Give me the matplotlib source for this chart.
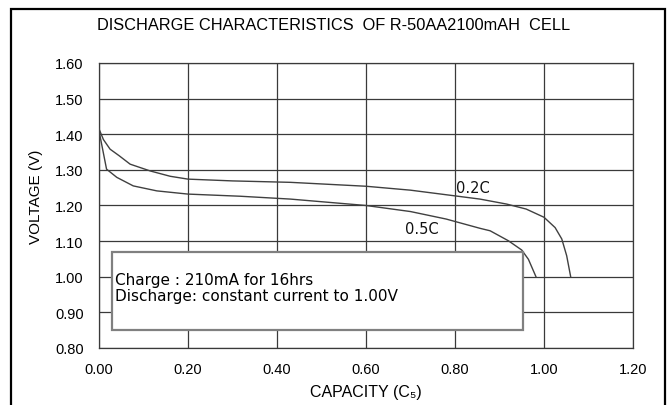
import numpy as np
import matplotlib
matplotlib.use("Agg")
import matplotlib.pyplot as plt
from matplotlib.patches import Rectangle

# Discharge curves (capacity in C5, voltage in V)
cap_02C = [0.0, 0.01, 0.025, 0.045, 0.07, 0.115, 0.16, 0.2, 0.3, 0.43, 0.6, 0.7, 0.8, 0.856, 0.916, 0.96, 1.0, 1.025, 1.04, 1.051, 1.06]
volt_02C = [1.415, 1.385, 1.358, 1.34, 1.316, 1.297, 1.282, 1.274, 1.269, 1.265, 1.254, 1.243, 1.227, 1.218, 1.204, 1.19, 1.167, 1.138, 1.106, 1.059, 1.0]

cap_05C = [0.0, 0.017, 0.04, 0.077, 0.13, 0.2, 0.317, 0.43, 0.6, 0.7, 0.78, 0.856, 0.879, 0.92, 0.95, 0.965, 0.982]
volt_05C = [1.41, 1.302, 1.279, 1.255, 1.241, 1.232, 1.226, 1.218, 1.2, 1.183, 1.162, 1.136, 1.129, 1.101, 1.075, 1.049, 1.0]

curve_labels = ["0.2C", "0.5C"]
x_ticks = [0.0, 0.2, 0.4, 0.6, 0.8, 1.0, 1.2]
y_ticks = [0.8, 0.9, 1.0, 1.1, 1.2, 1.3, 1.4, 1.5, 1.6]

title = "DISCHARGE CHARACTERISTICS  OF R-50AA2100mAH  CELL"
note_text = "Charge : 210mA for 16hrs\nDischarge: constant current to 1.00V"

SANS = ["Liberation Sans", "DejaVu Sans"]
GRID = "#3a3a3a"
LINE = "#404040"
TXT = "#000000"

fig = plt.figure(figsize=(6.67, 4.06), dpi=100)
ax = fig.add_axes([0.1484, 0.1404, 0.8006, 0.702])

# Outer frame around the whole figure
fig.patches.append(Rectangle((0.0165, -0.1), 0.98, 1.0754, transform=fig.transFigure,
                             fill=False, edgecolor="black", linewidth=1.6))

ax.plot(cap_02C, volt_02C, color=LINE, linewidth=1.0, zorder=3)
ax.plot(cap_05C, volt_05C, color=LINE, linewidth=1.0, zorder=3)
ax.text(0.803, 1.251, curve_labels[0], fontsize=10.5, family="DejaVu Sans", color="#111111", va="center")
ax.text(0.688, 1.136, curve_labels[1], fontsize=10.5, family="DejaVu Sans", color="#111111", va="center")

# Note box covering the grid
ax.add_patch(Rectangle((0.0285, 0.851), 0.9235, 0.219, facecolor="white",
                       edgecolor="#808080", linewidth=1.6, zorder=4))
ax.text(0.037, 0.969, note_text, fontsize=11, family="DejaVu Sans", color=TXT,
        va="center", ha="left", linespacing=1.1, zorder=5)

ax.set_xlim(0, 1.2)
ax.set_ylim(0.8, 1.6)
ax.set_xticks(x_ticks)
ax.set_yticks(y_ticks)
ax.set_xticklabels([f"{v:.2f}" for v in x_ticks], family=SANS, fontsize=10.5)
ax.set_yticklabels([f"{v:.2f}" for v in y_ticks], family=SANS, fontsize=10.5)
ax.tick_params(axis="both", length=0, colors=TXT)
ax.tick_params(axis="x", pad=10)
ax.tick_params(axis="y", pad=11)
ax.grid(True, color=GRID, linewidth=0.9, zorder=1)
ax.set_axisbelow(True)
for s in ax.spines.values():
    s.set_color(GRID)
    s.set_linewidth(0.9)

ax.set_xlabel("CAPACITY (C\u2085)", family=SANS, fontsize=11.5, labelpad=6, color=TXT)
ax.set_ylabel("VOLTAGE (V)", family=SANS, fontsize=11, color=TXT)
ax.yaxis.set_label_coords(-0.104, 0.535)
fig.text(0.5, 0.938, title, family=SANS, fontsize=11.8, ha="center", va="center", color=TXT)

fig.savefig("out.png", dpi=100)
